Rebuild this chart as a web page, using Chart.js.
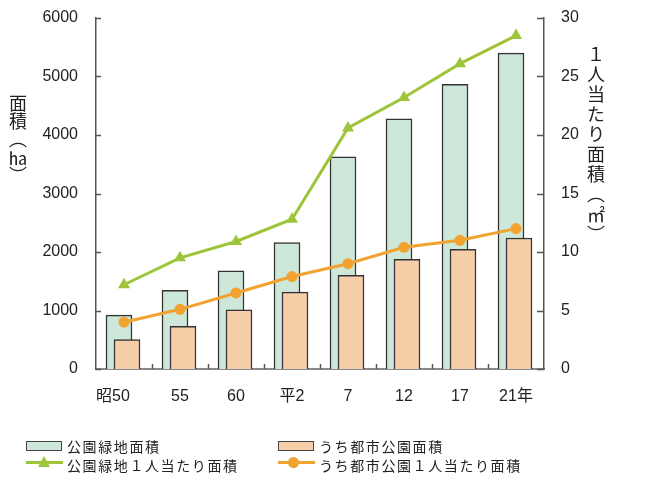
<!DOCTYPE html>
<html lang="ja">
<head>
<meta charset="utf-8">
<script src="https://cdn.jsdelivr.net/npm/chart.js@4.4.0/dist/chart.umd.min.js"></script>
<style>
  body { margin: 0; background: #fff; }
  #wrap { position: relative; width: 651px; height: 481px; }
  #chart1 { position: absolute; left: 0; top: 0; }
  .ytitle {
    position: absolute;
    writing-mode: vertical-rl;
    font-family: "Noto Sans CJK JP", sans-serif;
    color: #222;
    line-height: 1;
  }
  .ytitle .tcy { text-combine-upright: all; }
  .leg {
    position: absolute;
    font-family: "Noto Sans CJK JP", sans-serif;
    font-size: 14px;
    letter-spacing: 1.6px;
    color: #222;
    line-height: 20px;
    height: 20px;
  }
  .box { position: absolute; width: 34px; height: 8px; border: 1px solid #444; }
  .ln { position: absolute; width: 37px; height: 3px; }
  .tri { position: absolute; width: 0; height: 0; border-left: 6px solid transparent; border-right: 6px solid transparent; }
  .dot { position: absolute; width: 11px; height: 11px; border-radius: 50%; }
</style>
</head>
<body>
<div id="wrap">
  <canvas id="chart1" width="651" height="481"></canvas>
  <div class="ytitle" style="left:9px; top:94px; font-size:18px;">面積（<span class="tcy">ha</span>）</div>
  <div class="ytitle" style="left:587px; top:45px; font-size:18px; letter-spacing:2px;">１人当たり面積（㎡）</div>
  <div id="legend"></div>
</div>
<script>
const categories = ['昭50', '55', '60', '平2', '7', '12', '17', '21年'];
const parkArea = [920, 1345, 1680, 2160, 3625, 4275, 4865, 5400];
const cityParkArea = [505, 730, 1010, 1315, 1600, 1875, 2045, 2240];
const parkPerPerson = [7.2, 9.5, 10.9, 12.8, 20.6, 23.2, 26.1, 28.5];
const cityParkPerPerson = [4.0, 5.1, 6.5, 7.9, 9.0, 10.4, 11.0, 12.0];
const areaTicks = [0, 1000, 2000, 3000, 4000, 5000, 6000];
const perPersonTicks = [0, 5, 10, 15, 20, 25, 30];

const greenFill = '#cde8d8';
const orangeFill = '#f6cfa8';
const greenLine = '#9ec53a';
const orangeLine = '#f2a22f';

const numFont = { family: '"Liberation Sans", Arial, sans-serif', size: 16 };
const jpFont = { family: '"Liberation Sans", "Noto Sans CJK JP", sans-serif', size: 16 };

// inward tick marks on all three axes
const innerTicks = {
    id: 'innerTicks',
    afterDraw(chart) {
        const { ctx, chartArea: a, scales } = chart;
        ctx.save();
        ctx.strokeStyle = '#555';
        ctx.lineWidth = 1.5;
        ctx.beginPath();
        scales.y.ticks.forEach(t => {
            const py = Math.round(scales.y.getPixelForValue(t.value)) + 0.5;
            ctx.moveTo(a.left, py);
            ctx.lineTo(a.left + 5, py);
        });
        scales.y2.ticks.forEach(t => {
            const py = Math.round(scales.y2.getPixelForValue(t.value)) + 0.5;
            ctx.moveTo(a.right, py);
            ctx.lineTo(a.right - 7, py);
        });
        for (let i = 1; i < categories.length; i++) {
            const px = Math.round((scales.x.getPixelForValue(i - 1) + scales.x.getPixelForValue(i)) / 2) + 0.5;
            ctx.moveTo(px, a.bottom);
            ctx.lineTo(px, a.bottom - 5);
        }
        ctx.stroke();
        ctx.restore();
    }
};

const ctx = document.querySelector('#chart1').getContext('2d');

const chart = new Chart(ctx, {
    data: {
        labels: categories,
        datasets: [
            {
                type: 'line',
                label: '公園緑地１人当たり面積',
                data: parkPerPerson,
                yAxisID: 'y2',
                xAxisID: 'x',
                borderColor: greenLine,
                backgroundColor: greenLine,
                borderWidth: 3,
                pointStyle: 'triangle',
                pointRadius: 7,
                pointBorderWidth: 0,
                tension: 0,
                order: 0
            },
            {
                type: 'line',
                label: 'うち都市公園１人当たり面積',
                data: cityParkPerPerson,
                yAxisID: 'y2',
                xAxisID: 'x',
                borderColor: orangeLine,
                backgroundColor: orangeLine,
                borderWidth: 3,
                pointStyle: 'circle',
                pointRadius: 5.5,
                pointBorderWidth: 0,
                tension: 0,
                order: 1
            },
            {
                type: 'bar',
                label: 'うち都市公園面積',
                data: cityParkArea.map((v, i) => ({ x: i, y: v })),
                xAxisID: 'xo',
                yAxisID: 'y',
                backgroundColor: orangeFill,
                borderColor: '#333',
                borderWidth: 1.5,
                barThickness: 26,
                grouped: false,
                order: 2
            },
            {
                type: 'bar',
                label: '公園緑地面積',
                data: parkArea.map((v, i) => ({ x: i, y: v })),
                xAxisID: 'xg',
                yAxisID: 'y',
                backgroundColor: greenFill,
                borderColor: '#333',
                borderWidth: 1.5,
                barThickness: 26,
                grouped: false,
                order: 3
            }
        ]
    },
    options: {
        responsive: false,
        animation: false,
        layout: { padding: { top: 18, left: 0, right: 0, bottom: 0 } },
        plugins: {
            legend: { display: false },
            tooltip: { enabled: false }
        },
        scales: {
            x: {
                type: 'category',
                position: 'bottom',
                offset: true,
                grid: { display: false, drawTicks: false },
                border: { display: true, color: '#888', width: 2 },
                ticks: {
                    color: '#222', font: jpFont, padding: 18, maxRotation: 0, autoSkip: false,
                    // first label sits a little left of its column in the original
                    callback: (v, i) => i === 0 ? categories[i] + '     ' : categories[i]
                },
                afterFit(scale) { scale.height = 112; }
            },
            // hidden index axes that set the bars slightly left / right of the category centre
            xg: {
                type: 'linear',
                display: false,
                offset: false,
                min: -0.5 + 5 / 56,
                max: 7.5 + 5 / 56
            },
            xo: {
                type: 'linear',
                display: false,
                offset: false,
                min: -0.5 - 3 / 56,
                max: 7.5 - 3 / 56
            },
            y: {
                position: 'left',
                min: 0,
                max: 6000,
                afterBuildTicks(scale) { scale.ticks = areaTicks.map(v => ({ value: v })); },
                grid: { display: false, drawTicks: false },
                border: { display: true, color: '#555', width: 1.5 },
                ticks: { color: '#222', font: numFont, padding: 18, callback: v => String(v) },
                afterFit(scale) { scale.width = 96; scale.paddingTop = 0; scale.paddingBottom = 0; }
            },
            y2: {
                position: 'right',
                min: 0,
                max: 30,
                afterBuildTicks(scale) { scale.ticks = perPersonTicks.map(v => ({ value: v })); },
                grid: { display: false, drawTicks: false },
                border: { display: true, color: '#555', width: 1.5 },
                ticks: { color: '#222', font: numFont, padding: 17, callback: v => String(v) },
                afterFit(scale) { scale.width = 107; scale.paddingTop = 0; scale.paddingBottom = 0; }
            }
        }
    },
    plugins: [innerTicks]
});

// legend in two columns under the chart
function buildLegend() {
    const byLabel = {};
    chart.data.datasets.forEach(ds => { byLabel[ds.label] = ds; });
    const legend = document.querySelector('#legend');
    const items = [
        { ds: byLabel['公園緑地面積'], x: 26, y: 436, kind: 'box' },
        { ds: byLabel['うち都市公園面積'], x: 278, y: 436, kind: 'box' },
        { ds: byLabel['公園緑地１人当たり面積'], x: 26, y: 455, kind: 'tri' },
        { ds: byLabel['うち都市公園１人当たり面積'], x: 278, y: 455, kind: 'dot' }
    ];
    items.forEach(it => {
        let html = '';
        if (it.kind === 'box') {
            html += `<div class="box" style="left:${it.x}px; top:${it.y + 5}px; background:${it.ds.backgroundColor}"></div>`;
        } else {
            html += `<div class="ln" style="left:${it.x}px; top:${it.y + 6}px; background:${it.ds.borderColor}"></div>`;
            if (it.kind === 'tri') {
                html += `<div class="tri" style="left:${it.x + 12}px; top:${it.y + 1}px; border-bottom:11px solid ${it.ds.borderColor}"></div>`;
            } else {
                html += `<div class="dot" style="left:${it.x + 10}px; top:${it.y + 2}px; background:${it.ds.borderColor}"></div>`;
            }
        }
        html += `<div class="leg" style="left:${it.x + 41}px; top:${it.y}px">${it.ds.label}</div>`;
        legend.insertAdjacentHTML('beforeend', html);
    });
}
buildLegend();
</script>
</body>
</html>
